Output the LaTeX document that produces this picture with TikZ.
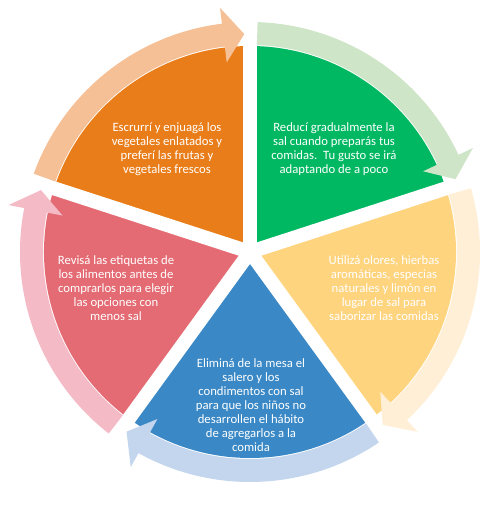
\documentclass[tikz,border=0pt]{standalone}
\usepackage{fontspec}
\setmainfont{Carlito}
\definecolor{secO}{HTML}{E97D19}
\definecolor{ringO}{HTML}{F6C097}
\definecolor{secG}{HTML}{00B862}
\definecolor{ringG}{HTML}{CFE5C7}
\definecolor{secY}{HTML}{FFD47F}
\definecolor{ringY}{HTML}{FFEFD6}
\definecolor{secB}{HTML}{3A88C5}
\definecolor{ringB}{HTML}{C3D6EE}
\definecolor{secP}{HTML}{E46B73}
\definecolor{ringP}{HTML}{F4BBC6}
\newcommand\ringarrow[3]{%
  \pgfmathsetmacro\arS{#2-1.9}\pgfmathsetmacro\arT{#3+1.5}\pgfmathsetmacro\arB{#3+7}%
  \fill[#1] (\arS:230pt) arc[start angle=\arS,end angle=\arB,radius=230pt]
    -- (\arB:246pt) -- (\arT:218pt) -- (\arB:191pt) -- (\arB:207pt)
    arc[start angle=\arB,end angle=\arS,radius=207pt] -- cycle;}
\newcommand\sectorfill[3]{%
  \fill[#1] (0,0) -- (#2:206pt) arc[start angle=#2,end angle=#3,radius=206pt] -- cycle;}
\begin{document}
\begin{tikzpicture}[x=1pt,y=1pt,
  txt/.style={text=white, align=center, font=\fontsize{12.7}{14}\selectfont, inner sep=0pt},
  gapline/.style={white, line width=14pt}]
\useasboundingbox (0,0) rectangle (500,506);
\begin{scope}[shift={(250,254)}]
  \sectorfill{secO}{162}{90}
  \sectorfill{secG}{90}{18}
  \sectorfill{secY}{18}{-54}
  \sectorfill{secB}{-54}{-126}
  \sectorfill{secP}{-126}{-198}
  \foreach \a in {90,18,-54,-126,162} \draw[gapline] (0,0) -- (\a:212pt);
  \ringarrow{ringO}{162}{90}
  \ringarrow{ringG}{90}{18}
  \ringarrow{ringY}{18}{-54}
  \ringarrow{ringB}{-54}{-126}
  \ringarrow{ringP}{-126}{-198}
\end{scope}
\node[txt] (tO) at (167,357) {Escrurrí y enjuagá los\\vegetales enlatados y\\preferí las frutas y\\vegetales frescos};
\node[txt] (tG) at (334,357) {Reducí gradualmente la\\sal cuando preparás tus\\comidas.\ \ Tu gusto se irá\\adaptando de a poco};
\node[txt] (tY) at (384,218) {Utilizá olores, hierbas\\aromáticas, especias\\naturales y limón en\\lugar de sal para\\saborizar las comidas};
\node[txt] (tP) at (116,218) {Revisá las etiquetas de\\los alimentos antes de\\comprarlos para elegir\\las opciones con\\menos sal};
\node[txt] (tB) at (251,101) {Eliminá de la mesa el\\salero y los\\condimentos con sal\\para que los niños no\\desarrollen el hábito\\de agregarlos a la\\comida};
\end{tikzpicture}
\end{document}
